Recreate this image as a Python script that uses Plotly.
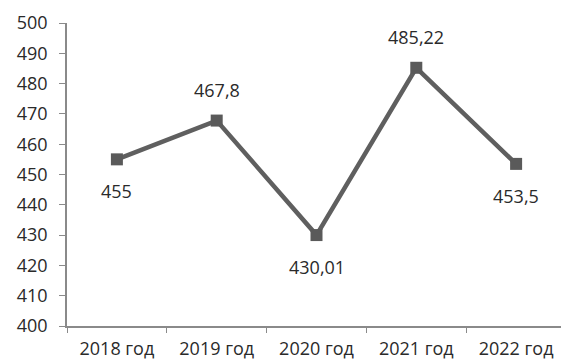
import plotly.graph_objects as go

categories = ["2018 год", "2019 год", "2020 год", "2021 год", "2022 год"]
values = [455, 467.8, 430.01, 485.22, 453.5]
labels = ["455", "467,8", "430,01", "485,22", "453,5"]
label_side = ["below", "above", "below", "above", "below"]
y_ticks = list(range(400, 501, 10))

fig = go.Figure()
fig.add_trace(go.Scatter(
    x=categories, y=values, mode="lines+markers",
    line=dict(color="#5f5f5f", width=4.5),
    marker=dict(symbol="square", size=12, color="#5a5a5a"),
    hoverinfo="skip",
))
for c, v, t, s in zip(categories, values, labels, label_side):
    fig.add_annotation(x=c, y=v, text=t, showarrow=False,
                       yshift=31 if s == "above" else -32,
                       font=dict(size=18, color="#2a2a2a"))

fig.update_layout(
    width=561, height=354,
    margin=dict(l=59, r=0, t=15, b=36),
    paper_bgcolor="white", plot_bgcolor="white",
    showlegend=False,
    font=dict(family="Open Sans, Liberation Sans, sans-serif", size=18, color="#2a2a2a"),
)
fig.update_xaxes(
    type="category", range=[-0.5, 4.53],
    showgrid=False, showline=True, linecolor="#8a8a8a", linewidth=1.5,
    ticks="outside", ticklen=5, tickcolor="#8a8a8a", tickson="boundaries",
    ticklabelstandoff=6,
    tickfont=dict(size=18, color="#2a2a2a"),
)
fig.update_yaxes(
    range=[400, 500], tickvals=y_ticks,
    showgrid=False, showline=True, linecolor="#8a8a8a", linewidth=1.5,
    ticks="outside", ticklen=6, tickcolor="#8a8a8a",
    ticklabelstandoff=8,
    tickfont=dict(size=18, color="#2a2a2a"), zeroline=False,
)
fig.write_html("out.html")
